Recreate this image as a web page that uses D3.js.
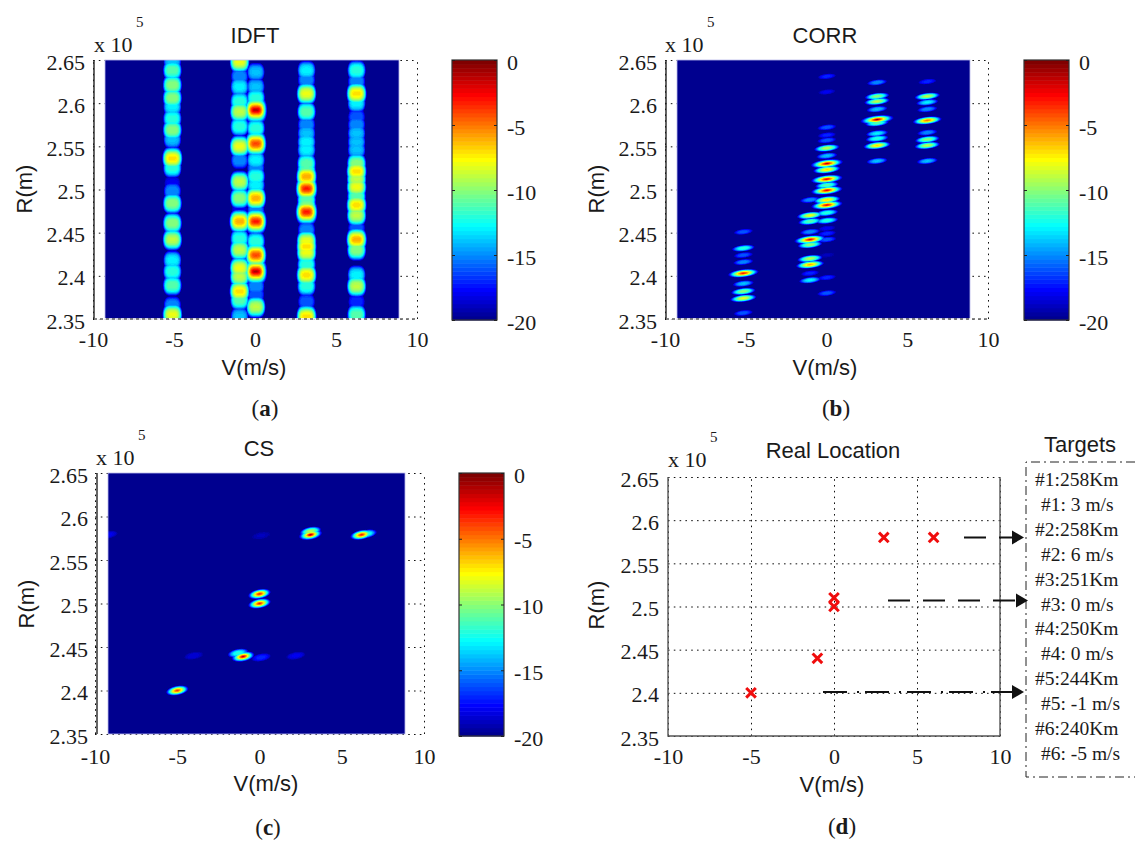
<!DOCTYPE html>
<html>
<head>
<meta charset="utf-8">
<script src="https://cdn.jsdelivr.net/npm/d3@7"></script>
<style>
  html, body { margin: 0; padding: 0; background: #fff; }
  svg { display: block; }
  text { fill: #1a1a1a; }
</style>
</head>
<body>
<script>
// tick labels, shared by all four panels
const vTicks = [-10, -5, 0, 5, 10];
const rTicks = [2.35, 2.4, 2.45, 2.5, 2.55, 2.6, 2.65];
const dbTicks = [0, -5, -10, -15, -20];

// IDFT : [R (x10^5 m), level (dB)] read along each velocity column
const idftColumns = [-5.1, -0.95, 0.05, 3.18, 6.27];
const idftM5 = [[2.648,-14],[2.638,-11],[2.621,-10],[2.606,-10],[2.596,-13],[2.582,-12],[2.569,-10],[2.558,-14],[2.536,-7],[2.525,-12],[2.507,-18],[2.498,-15],[2.484,-10],[2.461,-10],[2.442,-9],[2.418,-13],[2.405,-12],[2.389,-11],[2.366,-15],[2.355,-8]];
const idftM1 = [[2.648,-8],[2.631,-15],[2.619,-13],[2.602,-12],[2.590,-9],[2.573,-12],[2.550,-8],[2.534,-15],[2.509,-9],[2.490,-10],[2.476,-18],[2.463,-6],[2.443,-12],[2.430,-9],[2.409,-8],[2.399,-9],[2.382,-7],[2.372,-11],[2.353,-14]];
const idftZero = [[2.636,-14],[2.619,-14],[2.606,-12],[2.592,-1],[2.571,-12],[2.553,-4],[2.534,-13],[2.525,-15],[2.515,-12],[2.505,-13],[2.490,-6],[2.476,-15],[2.463,-3],[2.440,-12],[2.424,-4],[2.405,-1],[2.388,-15],[2.378,-16],[2.364,-9]];
const idftP3 = [[2.638,-13],[2.627,-15],[2.611,-8],[2.590,-11],[2.575,-15],[2.565,-14],[2.555,-13],[2.546,-13],[2.530,-11],[2.522,-11],[2.515,-6],[2.508,-10],[2.501,-3],[2.494,-11],[2.488,-11],[2.481,-10],[2.474,-3],[2.453,-15],[2.440,-8],[2.434,-7],[2.427,-8],[2.413,-12],[2.401,-7],[2.388,-12],[2.370,-16],[2.353,-7]];
const idftP6 = [[2.638,-12],[2.625,-15],[2.611,-7],[2.600,-13],[2.584,-16],[2.575,-15],[2.565,-14],[2.555,-14],[2.546,-14],[2.530,-10],[2.521,-7],[2.512,-9],[2.503,-8],[2.492,-11],[2.482,-7],[2.470,-9],[2.455,-16],[2.442,-6],[2.430,-10],[2.401,-13],[2.388,-9],[2.370,-17],[2.355,-11]];

// CORR : same reading, side lobes around each target
const corrColumns = [-5.15, -1.02, 0.02, 3.13, 6.24];
const corrM5 = [[2.451,-16],[2.432,-12],[2.424,-16],[2.416,-15],[2.403,-3],[2.391,-14],[2.382,-10],[2.374,-8],[2.357,-16]];
const corrM1 = [[2.488,-15],[2.470,-8],[2.463,-11],[2.451,-15],[2.442,-2],[2.436,-10],[2.420,-9],[2.413,-6],[2.403,-17],[2.395,-13]];
const corrZero = [[2.631,-17],[2.613,-18],[2.572,-16],[2.563,-17],[2.557,-16],[2.548,-9],[2.539,-14],[2.530,-1],[2.523,-7],[2.512,-2],[2.505,-11],[2.499,-2],[2.488,-7],[2.482,-2],[2.473,-12],[2.464,-12],[2.455,-18],[2.449,-17],[2.442,-16],[2.424,-19],[2.398,-17],[2.380,-16]];
const corrP3 = [[2.624,-15],[2.608,-10],[2.602,-9],[2.593,-14],[2.581,0],[2.577,-11],[2.565,-13],[2.559,-12],[2.551,-7],[2.533,-14]];
const corrP6 = [[2.625,-17],[2.608,-9],[2.601,-13],[2.593,-15],[2.580,-5],[2.566,-15],[2.558,-10],[2.551,-9],[2.533,-14]];

// CS : [V, R, level]
const csPeaks = [[3.1,2.579,0],[3.1,2.583,-9],[6.2,2.579,-3],[6.5,2.580,-12],[0,2.511,-3],[0,2.500,-3],[-1,2.439,-1],[-1.3,2.443,-12],[-5,2.400,-4],[-9.2,2.579,-18],[-4,2.440,-18.5],[2.2,2.440,-18],[0.1,2.578,-19],[0.1,2.438,-17]];

// true target positions
const targetV = [3, 6, 0, 0, -1, -5];
const targetR = [2.58, 2.58, 2.51, 2.50, 2.44, 2.40];
const targetLines = ['#1:258Km','#1: 3 m/s','#2:258Km','#2: 6 m/s','#3:251Km','#3: 0 m/s','#4:250Km','#4: 0 m/s','#5:244Km','#5: -1 m/s','#6:240Km','#6: -5 m/s'];

const serif = "'Liberation Serif', serif";
const sans = "'Liberation Sans', sans-serif";

const svg = d3.select('body').append('svg').attr('width', 1135).attr('height', 841);

// MATLAB jet, 64 steps
const jetRamp = d3.scaleLinear()
  .domain([0, 0.11, 0.36, 0.62, 0.87, 1])
  .range(['#00008f', '#0000ff', '#00ffff', '#ffff00', '#ff0000', '#800000']);
const jetSteps = d3.range(64).map(i => d3.rgb(jetRamp(i / 63)));
const dbToStep = d3.scaleQuantize().domain([-20, 0]).range(jetSteps);

function toPeaks(columns, rows) {
  const out = [];
  rows.forEach((row, i) => row.forEach(d => out.push([columns[i], d[0], d[1]])));
  return out;
}

// raster of the field, max of the read peaks, as one svg image
// weak peaks come out flat and blocky, strong ones with a narrow hot core
function heatImage(g, peaks, x, y, box, sp) {
  const w = box.x1 - box.x0, h = box.y1 - box.y0;
  const canvas = document.createElement('canvas');
  canvas.width = w; canvas.height = h;
  const ctx = canvas.getContext('2d');
  const img = ctx.createImageData(w, h);
  for (let j = 0; j < h; j++) {
    const r = y.invert(box.y0 + j + 0.5);
    for (let i = 0; i < w; i++) {
      const v = x.invert(box.x0 + i + 0.5);
      let best = -20;
      for (const p of peaks) {
        const strength = (p[2] + 20) / 20;
        const hv = sp.v0 + sp.v1 * strength, hr = sp.r0 + sp.r1 * strength;
        const dv = Math.abs(v - p[0]) / hv;
        if (dv > 1) continue;
        const dr = (r - p[1] - sp.tilt * (v - p[0])) / hr;
        const d2 = Math.pow(dv, sp.vPow) + dr * dr;
        if (d2 >= 1) continue;
        const db = p[2] - (p[2] + 20) * Math.pow(d2, sp.flat - (sp.flat - 0.5) * strength);
        if (db > best) best = db;
      }
      const c = dbToStep(best), k = (j * w + i) * 4;
      img.data[k] = c.r; img.data[k + 1] = c.g; img.data[k + 2] = c.b; img.data[k + 3] = 255;
    }
  }
  ctx.putImageData(img, 0, 0);
  g.append('image').attr('x', box.x0).attr('y', box.y0).attr('width', w).attr('height', h)
    .attr('href', canvas.toDataURL());
  g.append('rect').attr('x', box.x0).attr('y', box.y0).attr('width', w).attr('height', h)
    .attr('fill', 'none').attr('stroke', '#b9b9ea').attr('stroke-width', 0.8);
}

function drawAxes(g, x, y, p) {
  const xr = x.range(), yr = y.range();
  const dots = '1.6 4.2';

  // dotted grid and dotted box
  g.append('g').attr('transform', `translate(${xr[0]},0)`)
    .call(d3.axisLeft(y).tickValues(rTicks).tickSize(xr[0] - xr[1]).tickFormat(''))
    .call(a => a.select('.domain').remove())
    .selectAll('line').attr('stroke', '#111').attr('stroke-dasharray', dots);
  g.append('g').attr('transform', `translate(0,${yr[0]})`)
    .call(d3.axisBottom(x).tickValues(vTicks).tickSize(yr[1] - yr[0]).tickFormat(''))
    .call(a => a.select('.domain').remove())
    .selectAll('line').attr('stroke', '#111').attr('stroke-dasharray', dots);

  // tick labels
  const yAxis = g.append('g').attr('transform', `translate(${xr[0] + p.axisX},0)`)
    .call(d3.axisLeft(y).tickValues(rTicks).tickSize(0).tickPadding(9).tickFormat(d => d3.format('.3~f')(d)));
  yAxis.select('.domain').remove();
  yAxis.selectAll('text').attr('font-family', serif).attr('font-size', 22).attr('dy', 9).attr('fill', '#1a1a1a');
  const xAxis = g.append('g').attr('transform', `translate(0,${yr[0]})`)
    .call(d3.axisBottom(x).tickValues(vTicks).tickSize(0).tickPadding(0).tickFormat(d => d));
  xAxis.select('.domain').remove();
  xAxis.selectAll('text').attr('font-family', serif).attr('font-size', 22).attr('y', p.tickY).attr('dy', 0).attr('fill', '#1a1a1a');
}

function drawFrameLines(g, x, y, p) {
  const xr = x.range(), yr = y.range();
  g.append('line').attr('x1', xr[0] + p.axisX).attr('x2', xr[0] + p.axisX).attr('y1', yr[1]).attr('y2', yr[0])
    .attr('stroke', p.frame).attr('stroke-width', 1.4);
  if (p.dashBottom) {
    g.append('line').attr('x1', xr[0] + p.axisX).attr('x2', xr[1]).attr('y1', yr[0]).attr('y2', yr[0])
      .attr('stroke', '#fff').attr('stroke-width', 1.4);
    g.append('line').attr('x1', xr[0] + p.axisX).attr('x2', xr[1]).attr('y1', yr[0]).attr('y2', yr[0])
      .attr('stroke', '#111').attr('stroke-width', 1.2).attr('stroke-dasharray', '3 3');
  }
}

function labels(g, p) {
  const t = (s, x, y, size, family, extra) => {
    const n = g.append('text').attr('x', x).attr('y', y).attr('font-size', size).attr('font-family', family).text(s);
    if (extra) n.attr('text-anchor', extra);
    return n;
  };
  t(p.title, p.titleX, p.titleY, 22, sans, 'middle');
  t('x 10', p.expX, p.expY, 22, serif);
  t('5', p.expX + 42, p.expY - 25, 15, serif);
  t('V(m/s)', p.xLabelX, p.xLabelY, 22, sans, 'middle');
  g.append('text').attr('transform', `translate(${p.yLabelX},${p.yLabelY}) rotate(-90)`)
    .attr('text-anchor', 'middle').attr('font-size', 22).attr('font-family', sans).text('R(m)');
  const tag = g.append('text').attr('x', p.tagX).attr('y', p.tagY).attr('text-anchor', 'middle')
    .attr('font-size', 23).attr('font-family', serif);
  tag.append('tspan').text('(');
  tag.append('tspan').attr('font-weight', 'bold').text(p.tag);
  tag.append('tspan').text(')');
}

function colorbar(g, box) {
  const y = d3.scaleLinear().domain([-20, 0]).range([box.y1, box.y0]);
  const band = (box.y1 - box.y0) / 64;
  g.selectAll('rect.step').data(jetSteps).join('rect').attr('class', 'step')
    .attr('x', box.x0).attr('width', box.x1 - box.x0)
    .attr('y', (d, i) => y(-20) - (i + 1) * band).attr('height', band + 0.5)
    .attr('fill', d => d.formatHex());
  g.append('rect').attr('x', box.x0).attr('y', box.y0).attr('width', box.x1 - box.x0).attr('height', box.y1 - box.y0)
    .attr('fill', 'none').attr('stroke', '#333').attr('stroke-width', 1.2);
  const axis = g.append('g').attr('transform', `translate(${box.x1},0)`)
    .call(d3.axisRight(y).tickValues(dbTicks).tickSize(-3).tickPadding(10).tickFormat(d => d));
  axis.select('.domain').remove();
  axis.selectAll('line').attr('stroke', '#222');
  axis.selectAll('text').attr('font-family', serif).attr('font-size', 22).attr('dy', 9).attr('fill', '#1a1a1a');
  g.append('g').attr('transform', `translate(${box.x0},0)`)
    .call(d3.axisLeft(y).tickValues(dbTicks).tickSize(-3).tickFormat(''))
    .call(a => a.select('.domain').remove())
    .selectAll('line').attr('stroke', '#222');
}

function heatPanel(p, peaks) {
  const g = svg.append('g');
  const x = d3.scaleLinear().domain([-10, 10]).range(p.xRange);
  const y = d3.scaleLinear().domain([2.35, 2.65]).range(p.yRange);
  drawAxes(g, x, y, p);
  heatImage(g, peaks, x, y, p.image, p.spread);
  drawFrameLines(g, x, y, p);
  labels(g, p);
  colorbar(g, p.bar);
}

heatPanel({
  xRange: [93, 417], yRange: [319, 60], axisX: 1, tickY: 28, frame: '#222', dashBottom: true,
  image: {x0: 105, x1: 399, y0: 60, y1: 319},
  spread: {v0: 0.48, v1: 0.25, r0: 0.0085, r1: 0.009, tilt: 0, vPow: 3.5, flat: 2.2},
  bar: {x0: 452, x1: 497, y0: 60, y1: 320},
  title: 'IDFT', titleX: 255, titleY: 43, expX: 94, expY: 52,
  xLabelX: 254, xLabelY: 375, yLabelX: 32, yLabelY: 189,
  tag: 'a', tagX: 265, tagY: 416
}, toPeaks(idftColumns, [idftM5, idftM1, idftZero, idftP3, idftP6]));

heatPanel({
  xRange: [665, 988], yRange: [319, 60], axisX: 1, tickY: 28, frame: '#222', dashBottom: true,
  image: {x0: 677, x1: 970, y0: 60, y1: 319},
  spread: {v0: 0.5, v1: 0.55, r0: 0.003, r1: 0.0022, tilt: 0.002, vPow: 2, flat: 1.7},
  bar: {x0: 1024, x1: 1069, y0: 60, y1: 320},
  title: 'CORR', titleX: 825, titleY: 43, expX: 665, expY: 52,
  xLabelX: 825, xLabelY: 375, yLabelX: 604, yLabelY: 189,
  tag: 'b', tagX: 836, tagY: 416
}, toPeaks(corrColumns, [corrM5, corrM1, corrZero, corrP3, corrP6]));

heatPanel({
  xRange: [95, 424], yRange: [734, 473], axisX: 2, tickY: 30, frame: '#222', dashBottom: false,
  image: {x0: 108, x1: 405, y0: 473, y1: 734},
  spread: {v0: 0.6, v1: 0.12, r0: 0.0045, r1: 0.0015, tilt: 0.003, vPow: 2, flat: 1.7},
  bar: {x0: 459, x1: 504, y0: 473, y1: 736},
  title: 'CS', titleX: 259, titleY: 456, expX: 96, expY: 465,
  xLabelX: 266, xLabelY: 791, yLabelX: 34, yLabelY: 604,
  tag: 'c', tagX: 268, tagY: 835
}, csPeaks);

// panel d, real locations with the target list beside it
const gd = svg.append('g');
const pd = {
  xRange: [668, 1000], yRange: [736, 477], axisX: 0, tickY: 28, frame: '#555',
  title: 'Real Location', titleX: 833, titleY: 458, expX: 668, expY: 467,
  xLabelX: 832, xLabelY: 792, yLabelX: 604, yLabelY: 605,
  tag: 'd', tagX: 842, tagY: 834
};
const xd = d3.scaleLinear().domain([-10, 10]).range(pd.xRange);
const yd = d3.scaleLinear().domain([2.35, 2.65]).range(pd.yRange);
drawAxes(gd, xd, yd, pd);
gd.append('path')
  .attr('d', `M${xd(-10)},${yd(2.65)}V${yd(2.35)}H${xd(10)}V${yd(2.65)}`)
  .attr('fill', 'none').attr('stroke', '#555').attr('stroke-width', 1.4);
labels(gd, pd);

gd.selectAll('path.target').data(targetV).join('path').attr('class', 'target')
  .attr('transform', (d, i) => `translate(${xd(d)},${yd(targetR[i])})`)
  .attr('d', d3.symbol(d3.symbolTimes, 62))
  .attr('fill', 'none').attr('stroke', '#f00d0d').attr('stroke-width', 3);

// target box, open on the right where the page cuts it
gd.append('path').attr('d', 'M1135,462H1026V777H1135')
  .attr('fill', 'none').attr('stroke', '#222').attr('stroke-width', 1).attr('stroke-dasharray', '9 4 2 4');
gd.append('text').attr('x', 1080).attr('y', 452).attr('text-anchor', 'middle')
  .attr('font-family', sans).attr('font-size', 22).text('Targets');
gd.selectAll('text.line').data(targetLines).join('text').attr('class', 'line')
  .attr('x', (d, i) => i % 2 ? 1041 : 1035)
  .attr('y', (d, i) => 486 + i * 24.9)
  .attr('font-family', serif).attr('font-size', 19.5).text(d => d);

// long dashed pointers from the groups to the list
const arrows = [
  {from: 2.58, x0: 964, x1: 1012, dash: '22 13'},
  {from: 2.507, x0: 888, x1: 1016, dash: '22 13'},
  {from: 2.401, x0: 823, x1: 1012, dash: '24 10 2 6'}
];
arrows.forEach(a => {
  const yy = yd(a.from);
  gd.append('line').attr('x1', a.x0).attr('x2', a.x1).attr('y1', yy).attr('y2', yy)
    .attr('stroke', '#111').attr('stroke-width', 2).attr('stroke-dasharray', a.dash);
  gd.append('path').attr('d', `M${a.x1},${yy - 7}L${a.x1 + 12},${yy}L${a.x1},${yy + 7}Z`).attr('fill', '#111');
});
</script>
</body>
</html>
